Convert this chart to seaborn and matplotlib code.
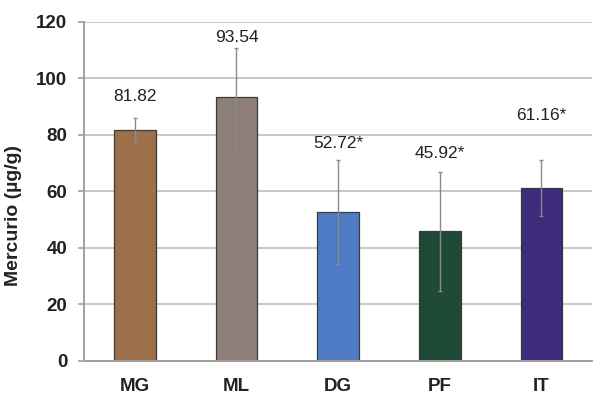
import numpy as np
import pandas as pd
import matplotlib
matplotlib.use('Agg')
import matplotlib.pyplot as plt
import seaborn as sns

## ============================================================= ##

sitios = ['MG', 'ML', 'DG', 'PF', 'IT']
mercurio = [81.82, 93.54, 52.72, 45.92, 61.16]
desv = [4.3, 17.4, 18.5, 21.0, 10.0]
etiquetas = ['81.82', '93.54', '52.72*', '45.92*', '61.16*']

colores = ['#9c7049', '#8d7f77', '#4e7bc3', '#1f4a36', '#3e2b7c']
# altura de las etiquetas sobre las barras (en unidades del eje)
altura_etiqueta = [93.5, 114.5, 77.0, 73.5, 87.0]

## ============================================================= ##

sns.set_style('white')
plt.rcParams['font.family'] = ['Liberation Sans', 'DejaVu Sans']

df = pd.DataFrame({'sitio': sitios, 'hg': mercurio})

fig = plt.figure(figsize=(5.93, 3.94), dpi=100)
ax = fig.add_axes([0.1417, 0.0838, 0.857, 0.8604])

sns.barplot(data=df, x='sitio', y='hg', hue='sitio', palette=colores, legend=False, saturation=1,
	width=0.41, edgecolor='#3a3a3a', linewidth=0.9, errorbar=None, ax=ax, zorder=2)
ax.errorbar(np.arange(len(sitios)), mercurio, yerr=desv, fmt='none', ecolor='#8a8a8a',
	elinewidth=1.0, capsize=1.5, capthick=1.0, zorder=3)

for i, txt in enumerate(etiquetas):
	ax.text(i, altura_etiqueta[i], txt, ha='center', va='center', fontsize=12.5, color='#222222')

ax.set_ylim(0, 120)
ax.set_xlim(-0.5, 4.5)
ax.set_yticks(np.arange(0, 121, 20))
ax.yaxis.grid(True, color='#c8c8c8', lw=1.4, zorder=0)
ax.set_axisbelow(True)
sns.despine(ax=ax, top=True, right=True)
ax.spines['left'].set_color('#a0a0a0')
ax.spines['left'].set_linewidth(1.4)
ax.spines['bottom'].set_color('#a0a0a0')
ax.spines['bottom'].set_linewidth(1.4)
ax.tick_params(axis='y', left=True, length=4, width=1.2, color='#a0a0a0', labelsize=13.5, pad=8)
ax.tick_params(axis='x', bottom=False, labelsize=13.5, pad=9)
for lab in ax.get_xticklabels() + ax.get_yticklabels():
	lab.set_fontweight('bold')
	lab.set_color('#222222')
ax.set_xlabel('')
ax.set_ylabel('Mercurio (µg/g)', fontsize=14, fontweight='bold', color='#222222')
ax.yaxis.set_label_coords(-0.122, 0.43)

fig.savefig('out.png', dpi=100)
